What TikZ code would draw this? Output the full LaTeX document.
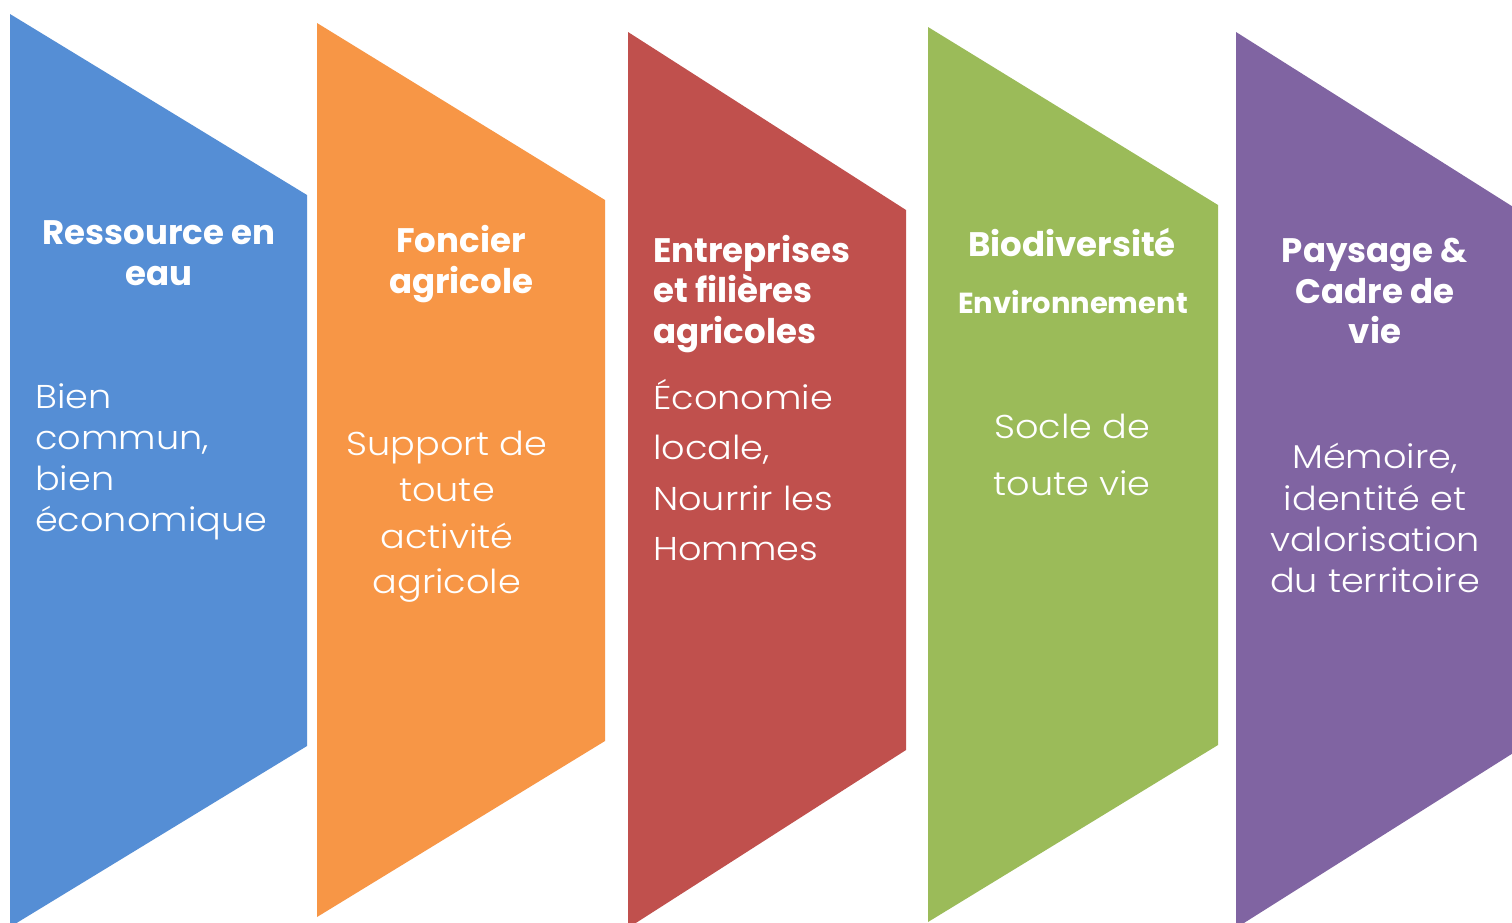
\documentclass[tikz,border=0pt]{standalone}
\usepackage{fontspec}
\setmainfont{Poppins}
\IfFontExistsTF{Poppins Light}{\newfontfamily\bodyfont{Poppins Light}[FakeStretch=1.11]}{\newfontfamily\bodyfont{Poppins}[FakeStretch=1.11]}
\definecolor{cblue}{HTML}{558ED5}
\definecolor{corange}{HTML}{F79646}
\definecolor{cred}{HTML}{C0504D}
\definecolor{cgreen}{HTML}{9BBB59}
\definecolor{cpurple}{HTML}{8064A2}
\tikzset{
  ttl/.style={text=white, font=\bfseries\fontsize{34}{40}\selectfont, anchor=base, inner sep=0pt},
  ttlsmall/.style={text=white, font=\bfseries\fontsize{29}{34}\selectfont, anchor=base, inner sep=0pt},
  bdy/.style={text=white, font=\bodyfont\fontsize{33}{41}\selectfont, anchor=base, inner sep=0pt},
  lft/.style={anchor=base west}
}
\begin{document}
\begin{tikzpicture}[x=1pt,y=-1pt]
\useasboundingbox (0,0) rectangle (1512,922);
\clip (0,0) rectangle (1512,922);
\fill[white] (0,0) rectangle (1512,922);
% shapes
\fill[cblue]   (10,14)   -- (307,195)  -- (307,746)  -- (10,927)   -- cycle;
\fill[corange] (317,23)  -- (605,200)  -- (605,741)  -- (317,917)  -- cycle;
\fill[cred]    (628,32)  -- (906,210)  -- (906,750)  -- (628,928)  -- cycle;
\fill[cgreen]  (928,27)  -- (1218,205) -- (1218,745) -- (928,922)  -- cycle;
\fill[cpurple] (1236,32) -- (1518,210) -- (1518,750) -- (1236,928) -- cycle;
% blue
\node[ttl] (b1) at (159,244) {Ressource en};
\node[ttl] (b2) at (159,285) {eau};
\node[bdy,lft] (b3) at (35,408) {Bien};
\node[bdy,lft] (b4) at (35,449) {commun,};
\node[bdy,lft] (b5) at (35,490) {bien};
\node[bdy,lft] (b6) at (35,531) {économique};
% orange
\node[ttl] (o1) at (461,252) {Foncier};
\node[ttl] (o2) at (461,293) {agricole};
\node[bdy] (o3) at (447,455) {Support de};
\node[bdy] (o4) at (447,501) {toute};
\node[bdy] (o5) at (447,548) {activité};
\node[bdy] (o6) at (447,593) {agricole};
% red
\node[ttl,lft] (r1) at (653,262) {Entreprises};
\node[ttl,lft] (r2) at (653,302) {et filières};
\node[ttl,lft] (r3) at (653,343) {agricoles};
\node[bdy,lft] (r4) at (653,409) {Économie};
\node[bdy,lft] (r5) at (653,459) {locale,};
\node[bdy,lft] (r6) at (653,510) {Nourrir les};
\node[bdy,lft] (r7) at (653,560) {Hommes};
% green
\node[ttl] (g1) at (1072,256) {Biodiversité};
\node[ttlsmall] (g2) at (1073,313) {Environnement};
\node[bdy] (g3) at (1072,438) {Socle de};
\node[bdy] (g4) at (1072,495) {toute vie};
% purple
\node[ttl] (p1) at (1375,262) {Paysage \&};
\node[ttl] (p2) at (1375,303) {Cadre de};
\node[ttl] (p3) at (1375,343) {vie};
\node[bdy] (p4) at (1375,468) {Mémoire,};
\node[bdy] (p5) at (1375,510) {identité et};
\node[bdy] (p6) at (1375,551) {valorisation};
\node[bdy] (p7) at (1375,592) {du territoire};
\end{tikzpicture}
\end{document}
